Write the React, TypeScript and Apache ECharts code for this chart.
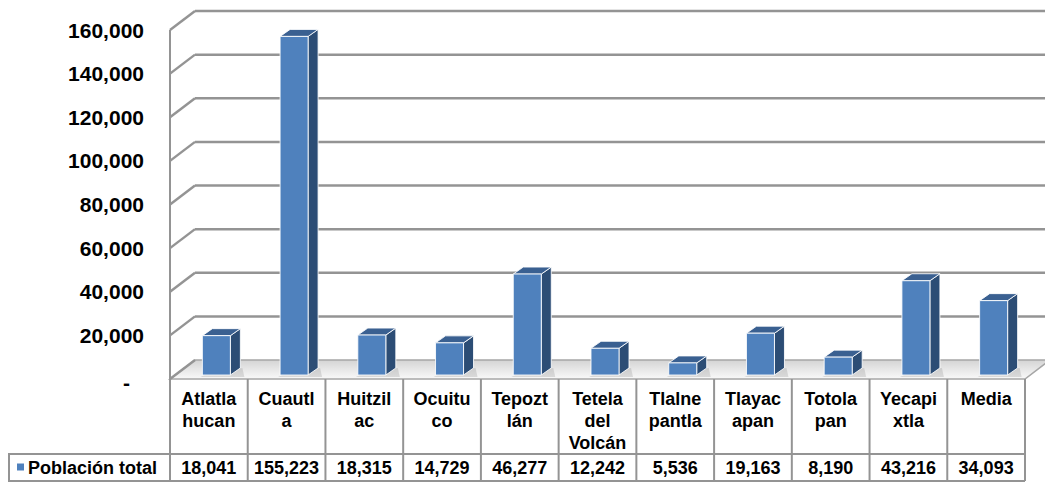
import React, { useEffect, useRef } from "react";
import * as echarts from "echarts";

const categoryLabels = [
  "Atlatla\nhucan",
  "Cuautl\na",
  "Huitzil\nac",
  "Ocuitu\nco",
  "Tepozt\nlán",
  "Tetela\ndel\nVolcán",
  "Tlalne\npantla",
  "Tlayac\napan",
  "Totola\npan",
  "Yecapi\nxtla",
  "Media",
];
const poblacion = [18041, 155223, 18315, 14729, 46277, 12242, 5536, 19163, 8190, 43216, 34093];
const seriesName = "Población total";
const yMax = 160000;
const yInterval = 20000;

const DX = 25;
const DY = -19;
const FONT = "Liberation Sans, Arial, sans-serif";
const GRID_COLOR = "#949494";

const fmt = (v: number) => v.toLocaleString("en-US");

export default function App() {
  const ref = useRef<HTMLDivElement>(null);
  useEffect(() => {
    if (!ref.current) return;
    const chart = echarts.init(ref.current, null, { renderer: "svg" });
    const N = categoryLabels.length;
    const ticks: number[] = [];
    for (let v = 0; v <= yMax; v += yInterval) ticks.push(v);

    const option: any = {
      animation: false,
      grid: { left: 170, right: 20, top: 30, bottom: 104, containLabel: false },
      xAxis: {
        type: "category",
        data: categoryLabels,
        axisLine: { show: false },
        axisTick: { show: false },
        axisLabel: {
          interval: 0,
          margin: 9,
          color: "#000",
          fontFamily: FONT,
          fontWeight: "bold",
          fontSize: 18,
          lineHeight: 22,
          verticalAlign: "top",
        },
      },
      yAxis: {
        type: "value",
        min: 0,
        max: yMax,
        interval: yInterval,
        axisLine: { show: false },
        axisTick: { show: false },
        splitLine: { show: false },
        axisLabel: {
          margin: 26,
          color: "#000",
          fontFamily: FONT,
          fontWeight: "bold",
          fontSize: 21,
          formatter: (v: number) => (v === 0 ? "{d|-}" : fmt(v)),
          rich: {
            d: { fontFamily: FONT, fontWeight: "bold", fontSize: 21, color: "#000", padding: [6, 14, 0, 0] },
          },
        },
      },
      series: [
        {
          type: "custom",
          name: "walls",
          silent: true,
          clip: false,
          z: 1,
          data: [[0, 0]],
          renderItem: (params: any, api: any) => {
            const w = api.size([1, 0])[0];
            const x0 = api.coord([0, 0])[0] - w / 2;
            const x1 = api.coord([N - 1, 0])[0] + w / 2;
            const yF0 = api.coord([0, 0])[1];
            const children: any[] = [];
            // floor
            children.push({
              type: "polygon",
              shape: { points: [[x0, yF0], [x1, yF0], [x1 + DX, yF0 + DY], [x0 + DX, yF0 + DY]] },
              style: {
                fill: new echarts.graphic.LinearGradient(0, 0, 0, 1, [
                  { offset: 0, color: "#d4d4d4" },
                  { offset: 0.6, color: "#ebebeb" },
                  { offset: 1, color: "#f9f9f9" },
                ]),
                stroke: "#a6a6a6",
                lineWidth: 1.5,
              },
            });
            ticks.forEach((v) => {
              const y = api.coord([0, v])[1];
              children.push({
                type: "line",
                shape: { x1: x0, y1: y, x2: x0 + DX, y2: y + DY },
                style: { stroke: GRID_COLOR, lineWidth: 2.5 },
              });
              if (v > 0) {
                children.push({
                  type: "line",
                  shape: { x1: x0 + DX, y1: y + DY, x2: x1 + DX + 40, y2: y + DY },
                  style: { stroke: GRID_COLOR, lineWidth: 2.5 },
                });
              }
            });
            const yTop = api.coord([0, yMax])[1];
            children.push({
              type: "line",
              shape: { x1: x0, y1: yTop, x2: x0, y2: yF0 + 102 },
              style: { stroke: GRID_COLOR, lineWidth: 2 },
            });
            const rowTop = yF0 + 75;
            const rowBot = yF0 + 102;
            children.push({
              type: "line",
              shape: { x1: 8, y1: rowTop, x2: x1, y2: rowTop },
              style: { stroke: GRID_COLOR, lineWidth: 2 },
            });
            children.push({
              type: "line",
              shape: { x1: 8, y1: rowBot, x2: x1, y2: rowBot },
              style: { stroke: GRID_COLOR, lineWidth: 2 },
            });
            children.push({
              type: "line",
              shape: { x1: 9, y1: rowTop, x2: 9, y2: rowBot },
              style: { stroke: GRID_COLOR, lineWidth: 2 },
            });
            const rowMid = (rowTop + rowBot) / 2;
            children.push({
              type: "rect",
              shape: { x: 17, y: rowMid - 4, width: 7, height: 7 },
              style: { fill: "#4F81BD" },
            });
            children.push({
              type: "text",
              style: {
                text: seriesName,
                x: 28,
                y: rowMid,
                fill: "#000",
                font: `bold 18px ${FONT}`,
                align: "left",
                verticalAlign: "middle",
              },
            });
            return { type: "group", children };
          },
        },
        {
          type: "custom",
          name: "table",
          silent: true,
          clip: false,
          z: 2,
          data: poblacion.map((v, i) => [i, v]),
          encode: { x: 0, y: 1 },
          renderItem: (params: any, api: any) => {
            const i = api.value(0);
            const v = api.value(1);
            const w = api.size([1, 0])[0];
            const cx = api.coord([i, 0])[0];
            const yF0 = api.coord([i, 0])[1];
            const right = cx + w / 2;
            const rowTop = yF0 + 75;
            const rowBot = yF0 + 102;
            return {
              type: "group",
              children: [
                {
                  type: "line",
                  shape: { x1: right, y1: yF0, x2: right, y2: rowBot },
                  style: { stroke: GRID_COLOR, lineWidth: 2 },
                },
                {
                  type: "text",
                  style: {
                    text: fmt(v),
                    x: cx,
                    y: (rowTop + rowBot) / 2,
                    fill: "#000",
                    font: `bold 18px ${FONT}`,
                    align: "center",
                    verticalAlign: "middle",
                  },
                },
              ],
            };
          },
        },
        {
          type: "custom",
          name: seriesName,
          clip: false,
          z: 3,
          data: poblacion.map((v, i) => [i, v]),
          encode: { x: 0, y: 1 },
          renderItem: (params: any, api: any) => {
            const i = api.value(0);
            const v = api.value(1);
            const top = api.coord([i, v]);
            const base = api.coord([i, 0]);
            const fx = 0.3 * DX;
            const fy = -4;
            const bw = 28;
            const sdx = 10;
            const sdy = -7;
            const l = top[0] - bw / 2 + fx;
            const r = l + bw;
            const t = top[1] + fy;
            const b = base[1] + fy;
            const edge = { stroke: "rgba(255,255,255,0.85)", lineWidth: 1 };
            return {
              type: "group",
              children: [
                {
                  type: "polygon",
                  shape: { points: [[l - 2, b + 2], [r + sdx + 4, b + 2], [r + sdx + 2, b + sdy], [l + 4, b - 1]] },
                  style: { fill: "rgba(120,120,120,0.22)" },
                },
                {
                  type: "polygon",
                  shape: { points: [[r, t], [r + sdx, t + sdy], [r + sdx, b + sdy], [r, b]] },
                  style: { fill: "#2C4D75", ...edge },
                },
                {
                  type: "polygon",
                  shape: { points: [[l, t], [r, t], [r + sdx, t + sdy], [l + sdx, t + sdy]] },
                  style: { fill: "#3A6091", ...edge },
                },
                {
                  type: "rect",
                  shape: { x: l, y: t, width: bw, height: b - t },
                  style: { fill: "#4F81BD", ...edge },
                },
              ],
            };
          },
        },
      ],
    };
    chart.setOption(option);
    return () => chart.dispose();
  }, []);
  return (
    <div
      ref={ref}
      style={{ position: "fixed", left: 0, top: 0, width: 1045, height: 483, background: "#fff" }}
    />
  );
}
